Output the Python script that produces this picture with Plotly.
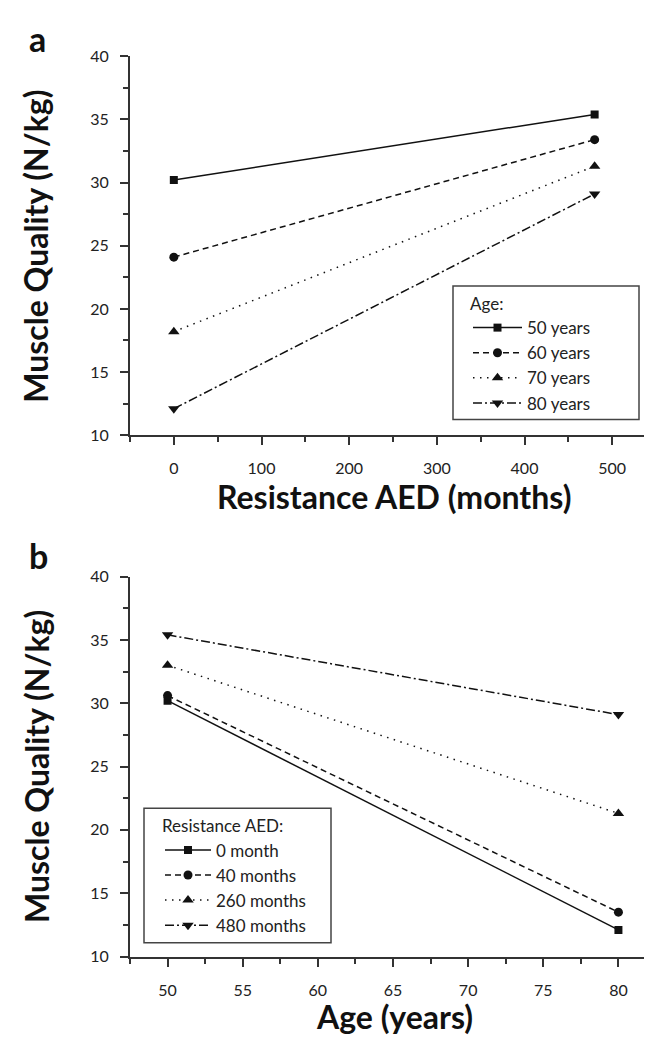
import plotly.graph_objects as go

W, H = 652, 1038

# ---- data ----
aed_months = [0, 480]
age_labels = ["50 years", "60 years", "70 years", "80 years"]
mq_by_age = [
    [30.2, 35.4],
    [24.1, 33.4],
    [18.2, 31.3],
    [12.1, 29.1],
]

ages = [50, 80]
aed_labels = ["0 month", "40 months", "260 months", "480 months"]
mq_by_aed = [
    [30.2, 12.1],
    [30.6, 13.5],
    [33.0, 21.3],
    [35.4, 29.1],
]

# ---- styles ----
symbols = ["square", "circle", "triangle-up", "triangle-down"]
msizes = [8, 9, 10, 10]
dashes = ["solid", "6px,4px", "1.5px,5.5px", "9px,3px,2px,3px"]
INK = "#111111"
AX = "#333333"
FONT = "Lato"


def px_x(p):
    return p / W


def px_y(p):
    return 1 - p / H


fig = go.Figure()

for lab, ys, sym, ms, dsh in zip(age_labels, mq_by_age, symbols, msizes, dashes):
    fig.add_trace(go.Scatter(
        x=aed_months, y=ys, name=lab, mode="lines+markers",
        line=dict(color=INK, width=1.5, dash=dsh),
        marker=dict(symbol=sym, size=ms, color=INK),
        xaxis="x", yaxis="y", legend="legend",
    ))

for lab, ys, sym, ms, dsh in zip(aed_labels, mq_by_aed, symbols, msizes, dashes):
    fig.add_trace(go.Scatter(
        x=ages, y=ys, name=lab, mode="lines+markers",
        line=dict(color=INK, width=1.5, dash=dsh),
        marker=dict(symbol=sym, size=ms, color=INK),
        xaxis="x2", yaxis="y2", legend="legend2",
    ))

axis_common = dict(
    showline=True, linecolor=AX, linewidth=2, mirror=False,
    showgrid=False, zeroline=False,
    ticks="outside", ticklen=8, tickwidth=1.5, tickcolor=AX,
    tickfont=dict(family=FONT, size=16, color="#222222"),
)
minor_common = dict(ticks="outside", ticklen=5, tickwidth=1.5, tickcolor=AX)

xd = [px_x(122), px_x(648)]
leg_font = dict(family=FONT, size=17, color="#222222")

fig.update_layout(
    width=W, height=H,
    margin=dict(l=0, r=0, t=0, b=0),
    paper_bgcolor="white", plot_bgcolor="white",
    showlegend=True,
    xaxis=dict(domain=xd, range=[-50, 550], tick0=0, dtick=100, anchor="y",
               ticklabelstandoff=10, minor=dict(dtick=50, tick0=0, **minor_common),
               **axis_common),
    yaxis=dict(domain=[px_y(425), px_y(39)], range=[10, 40], tick0=10, dtick=5, anchor="x",
               ticklabelstandoff=8, minor=dict(dtick=2.5, tick0=10, **minor_common),
               **axis_common),
    xaxis2=dict(domain=xd, range=[47.5, 82.5], tick0=50, dtick=5, anchor="y2",
                ticklabelstandoff=10, minor=dict(dtick=2.5, tick0=50, **minor_common),
                **axis_common),
    yaxis2=dict(domain=[px_y(956), px_y(569)], range=[10, 40], tick0=10, dtick=5, anchor="x2",
                ticklabelstandoff=8, minor=dict(dtick=2.5, tick0=10, **minor_common),
                **axis_common),
    legend=dict(
        x=px_x(460), y=px_y(275), xanchor="left", yanchor="top",
        bgcolor="rgba(0,0,0,0)", borderwidth=0,
        font=leg_font, title=dict(text="Age:", font=leg_font),
        itemwidth=49, tracegroupgap=0,
    ),
    legend2=dict(
        x=px_x(152), y=px_y(807), xanchor="left", yanchor="top",
        bgcolor="rgba(0,0,0,0)", borderwidth=0,
        font=leg_font, title=dict(text="Resistance AED:", font=leg_font),
        itemwidth=46, tracegroupgap=0,
    ),
)

# legend frames
frame = dict(type="rect", xref="paper", yref="paper", layer="above",
             fillcolor="white", line=dict(color="#444444", width=1.5))
fig.add_shape(x0=px_x(445), x1=px_x(631), y0=px_y(409), y1=px_y(273), **frame)
fig.add_shape(x0=px_x(136), x1=px_x(323), y0=px_y(942), y1=px_y(805), **frame)

title_font = dict(family=FONT, size=32, color="#111111")
label_font = dict(family=FONT, size=34, color="#111111")
ann = [
    dict(text="<b>a</b>", x=px_x(19), y=px_y(21), xanchor="left", yanchor="middle", font=label_font),
    dict(text="<b>b</b>", x=px_x(19), y=px_y(548), xanchor="left", yanchor="middle", font=label_font),
    dict(text="<b>Muscle Quality (N/kg)</b>", x=px_x(28), y=px_y(233), textangle=-90,
         xanchor="center", yanchor="middle", font=title_font),
    dict(text="<b>Muscle Quality (N/kg)</b>", x=px_x(28), y=px_y(763), textangle=-90,
         xanchor="center", yanchor="middle", font=title_font),
    dict(text="<b>Resistance AED (months)</b>", x=px_x(386), y=px_y(487),
         xanchor="center", yanchor="middle", font=title_font),
    dict(text="<b>Age (years)</b>", x=px_x(386), y=px_y(1017),
         xanchor="center", yanchor="middle", font=title_font),
]
for a in ann:
    a.update(xref="paper", yref="paper", showarrow=False)
fig.update_layout(annotations=ann)

fig.write_html("out.html")
